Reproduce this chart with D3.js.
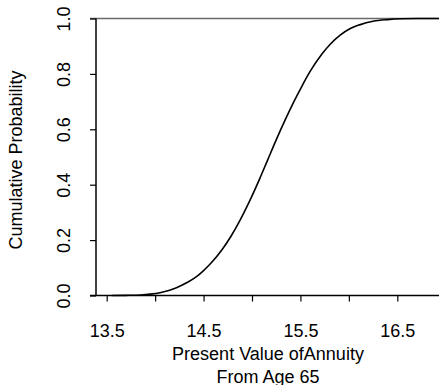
<!DOCTYPE html>
<html><head><meta charset="utf-8">
<script src="https://cdn.jsdelivr.net/npm/d3@7"></script>
<style>body{margin:0;background:#fff}svg{display:block}text{font-family:"Liberation Sans",Arial,sans-serif;fill:#000}</style>
</head><body><div id="c"></div>
<script>
// Data: value of annuity vs cumulative probability
const pvValues = [13.55,13.7,13.85,13.95,14.05,14.15,14.22,14.32,14.42,14.5,14.58,14.69,14.78,14.88,14.97,15.08,15.16,15.25,15.34,15.43,15.52,15.6,15.72,15.81,15.91,16.01,16.11,16.25,16.4,16.55,16.7,17.0];
const cumProb  = [0.0,0.0005,0.002,0.005,0.01,0.019,0.028,0.045,0.066,0.09,0.118,0.165,0.212,0.274,0.337,0.422,0.488,0.562,0.632,0.698,0.759,0.809,0.871,0.908,0.94,0.963,0.977,0.99,0.996,0.999,1.0,1.0];
const xTicks = [13.5,14,14.5,15,15.5,16,16.5];
const xTickLabels = ["13.5","","14.5","","15.5","","16.5"];
const yTicks = [0,0.2,0.4,0.6,0.8,1.0];
const yTickLabels = ["0.0","0.2","0.4","0.6","0.8","1.0"];

const W = 439, H = 385;
const svg = d3.select("#c").append("svg").attr("width", W).attr("height", H);
const x = d3.scaleLinear().domain([13.5, 16.5]).range([106.7, 397.3]);
const y = d3.scaleLinear().domain([0, 1]).range([295.5, 18.5]);

// horizontal reference line at 1 (gray)
svg.append("line").attr("x1", 90).attr("x2", W).attr("y1", y(1)).attr("y2", y(1))
  .attr("stroke", "#6a6a6a").attr("stroke-width", 1.5);

const data = pvValues.map((v, i) => ({v, p: cumProb[i]}));
svg.append("path").datum(data)
  .attr("fill", "none").attr("stroke", "#000").attr("stroke-width", 1.6)
  .attr("d", d3.line().x(d => x(d.v)).y(d => y(d.p)).curve(d3.curveMonotoneX));

// x axis
const xAxis = d3.axisBottom(x).tickValues(xTicks).tickSize(6)
  .tickFormat((d, i) => xTickLabels[i]);
const gx = svg.append("g").attr("transform", `translate(0,${y(0)})`).call(xAxis);
gx.select(".domain").remove();
gx.selectAll(".tick line").attr("stroke", "#000").attr("stroke-width", 1.2);
gx.selectAll(".tick text").attr("font-size", 18).attr("dy", 0).attr("y", 41)
  .style("font-family", '"Liberation Sans",Arial,sans-serif');
svg.append("line").attr("x1", 90).attr("x2", W).attr("y1", y(0)).attr("y2", y(0))
  .attr("stroke", "#000").attr("stroke-width", 1.5);

// y axis
const yAxis = d3.axisLeft(y).tickValues(yTicks).tickSize(6)
  .tickFormat((d, i) => yTickLabels[i]);
const gy = svg.append("g").attr("transform", "translate(96,0)").call(yAxis);
gy.select(".domain").remove();
gy.selectAll(".tick line").attr("stroke", "#000").attr("stroke-width", 1.2);
gy.selectAll(".tick text").attr("font-size", 18)
  .attr("x", null).attr("dy", null)
  .attr("transform", "translate(-26,0) rotate(-90)")
  .attr("text-anchor", "middle")
  .style("font-family", '"Liberation Sans",Arial,sans-serif');
svg.append("line").attr("x1", 96).attr("x2", 96).attr("y1", y(1)).attr("y2", y(0))
  .attr("stroke", "#000").attr("stroke-width", 1.5);

// axis titles
svg.append("text").attr("x", 268).attr("y", 360).attr("text-anchor", "middle")
  .attr("font-size", 18).text("Present Value ofAnnuity");
svg.append("text").attr("x", 268).attr("y", 382.5).attr("text-anchor", "middle")
  .attr("font-size", 18).text("From Age 65");
svg.append("text").attr("transform", "translate(21.5,160) rotate(-90)")
  .attr("text-anchor", "middle").attr("font-size", 18).text("Cumulative Probability");
</script></body></html>
